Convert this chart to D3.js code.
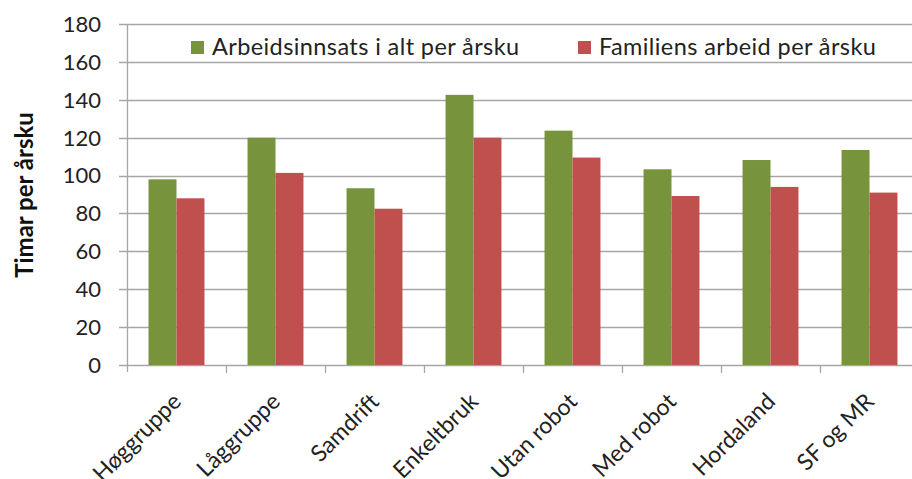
<!DOCTYPE html>
<meta charset="utf-8">
<style>
  body { margin: 0; background: #fff; }
  text { font-family: Lato, "Open Sans", sans-serif; }
</style>
<div id="chart"></div>
<script src="https://d3js.org/d3.v7.min.js"></script>
<script>

// data
var categories = ["Høggruppe", "Låggruppe", "Samdrift", "Enkeltbruk", "Utan robot", "Med robot", "Hordaland", "SF og MR"];
var seriesNames = ["Arbeidsinnsats i alt per årsku", "Familiens arbeid per årsku"];
var totalWork = [98, 120, 93.3, 142.6, 123.7, 103.3, 108.2, 113.5];
var familyWork = [88, 101.4, 82.5, 120, 109.5, 89.2, 94, 91];
var yTicks = [0, 20, 40, 60, 80, 100, 120, 140, 160, 180];
var colors = ["#77933c", "#c0504d"];

var width = 912, height = 479;

var svg = d3.select("#chart")
    .append("svg")
    .attr("width", width)
    .attr("height", height);

var x = d3.scaleBand()
    .domain(categories)
    .range([127, 919]);

var y = d3.scaleLinear()
    .domain([0, 180])
    .range([365, 24]);

var x1 = d3.scaleBand()
    .domain([0, 1])
    .range([0, x.bandwidth()])
    .paddingOuter(0.77)
    .paddingInner(0);

// gridlines
svg.append("g")
  .selectAll("line")
  .data(yTicks)
  .enter().append("line")
    .attr("x1", 119)
    .attr("x2", width)
    .attr("y1", function(d) { return Math.round(y(d)) + 0.5; })
    .attr("y2", function(d) { return Math.round(y(d)) + 0.5; })
    .attr("stroke", "#a6a6a6")
    .attr("stroke-width", 1.3);

// y tick labels
svg.append("g")
  .selectAll("text")
  .data(yTicks)
  .enter().append("text")
    .attr("x", 101)
    .attr("y", function(d) { return y(d); })
    .attr("dy", "0.36em")
    .attr("text-anchor", "end")
    .attr("font-size", 22)
    .attr("fill", "#222")
    .text(function(d) { return d; });

// bars
var rows = categories.map(function(c, i) { return { cat: c, vals: [totalWork[i], familyWork[i]] }; });

svg.append("g")
  .selectAll("g")
  .data(rows)
  .enter().append("g")
    .attr("transform", function(d) { return "translate(" + x(d.cat) + ",0)"; })
  .selectAll("rect")
  .data(function(d) { return d.vals; })
  .enter().append("rect")
    .attr("x", function(d, i) { return x1(i); })
    .attr("width", x1.bandwidth())
    .attr("y", function(d) { return y(d); })
    .attr("height", function(d) { return y(0) - y(d); })
    .attr("fill", function(d, i) { return colors[i]; });

// y axis line and category ticks
svg.append("line")
    .attr("x1", 127.5).attr("x2", 127.5)
    .attr("y1", y(180)).attr("y2", y(0) + 7)
    .attr("stroke", "#a6a6a6")
    .attr("stroke-width", 1.3);

svg.append("g")
  .selectAll("line")
  .data(categories.slice(1))
  .enter().append("line")
    .attr("x1", function(d) { return Math.round(x(d)) + 0.5; })
    .attr("x2", function(d) { return Math.round(x(d)) + 0.5; })
    .attr("y1", y(0))
    .attr("y2", y(0) + 8)
    .attr("stroke", "#a6a6a6")
    .attr("stroke-width", 1.3);

// x labels (bottom edge clips them, as in the original)
svg.append("g")
  .selectAll("text")
  .data(categories)
  .enter().append("text")
    .attr("text-anchor", "end")
    .attr("font-size", 23)
    .attr("fill", "#222")
    .attr("transform", function(d) {
      return "translate(" + (x(d) + x.bandwidth() / 2 + 6) + "," + (y(0) + 38) + ")rotate(-45)";
    })
    .text(function(d) { return d; });

// y axis title
svg.append("text")
    .attr("transform", "translate(33,195)rotate(-90)")
    .attr("text-anchor", "middle")
    .attr("font-size", 24)
    .attr("font-weight", "bold")
    .attr("fill", "#111")
    .text("Timar per årsku");

// legend
var legend = svg.append("g");
legend.append("rect")
    .attr("x", 170).attr("y", 27)
    .attr("width", width - 170).attr("height", 33)
    .attr("fill", "#fff");

var legendX = [191, 578];
var item = legend.selectAll("g")
  .data(seriesNames)
  .enter().append("g")
    .attr("transform", function(d, i) { return "translate(" + legendX[i] + ",55)"; });

item.append("rect")
    .attr("x", 0).attr("y", -14)
    .attr("width", 13).attr("height", 13)
    .attr("fill", function(d, i) { return colors[i]; });

item.append("text")
    .attr("x", 21)
    .attr("font-size", 23.5)
    .attr("letter-spacing", 0.4)
    .attr("fill", "#222")
    .text(function(d) { return d; });

</script>
